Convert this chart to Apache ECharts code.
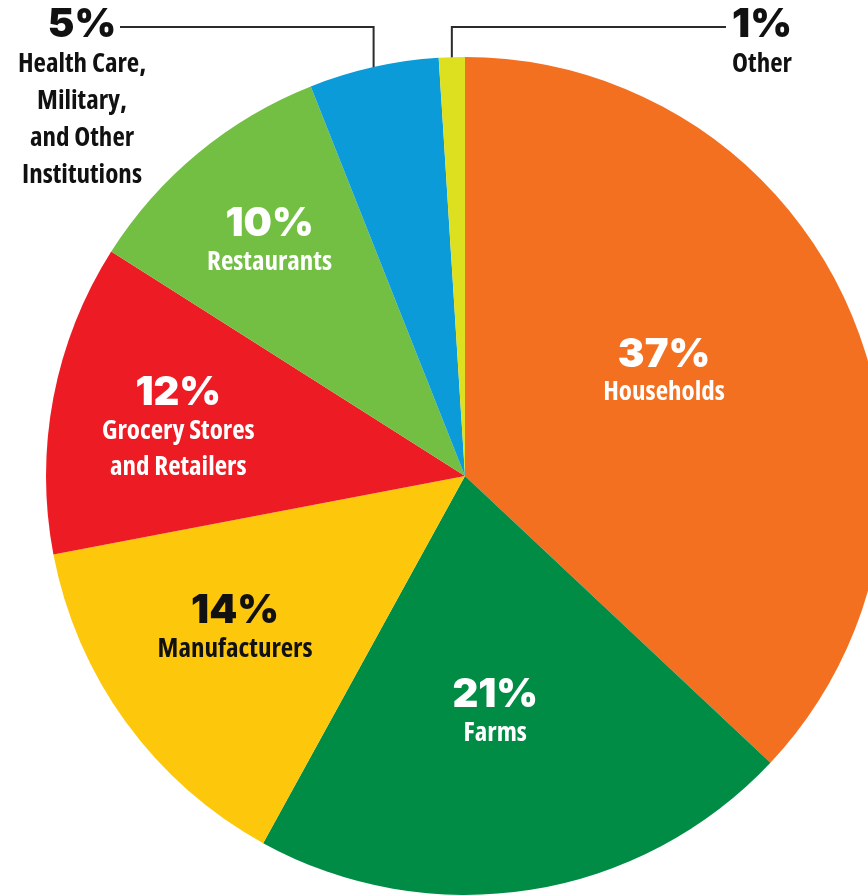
<!DOCTYPE html>
<html>
<head>
<meta charset="utf-8">
<script src="https://cdn.jsdelivr.net/npm/echarts@6/dist/echarts.min.js"></script>
<style>
html,body{margin:0;padding:0;background:#fff;}
#chart{width:868px;height:896px;}
</style>
</head>
<body>
<div id="chart"></div>
<script>
// ---- data ----
const categories = ['Households', 'Farms', 'Manufacturers', 'Grocery Stores\nand Retailers', 'Restaurants', 'Health Care,\nMilitary,\nand Other\nInstitutions', 'Other'];
const shares = [37, 21, 14, 12, 10, 5, 1];
const percentLabels = ['37%', '21%', '14%', '12%', '10%', '5%', '1%'];

// ---- styles ----
const sliceColors = ['#F37021', '#008C45', '#FDC70C', '#ED1C24', '#72BF44', '#0A9BD8', '#DDE01F'];
const darkText = [false, false, true, false, false, true, true];
const outsideIdx = [5, 6];
const insideOffsets = [[4, -19], [-3, 27], [-58, 28], [-78, -7], [-60, -70]];
const outsideLayout = {
  5: { x: 82, y: 4, lineY: 27, lineEndX: 120 },
  6: { x: 762, y: 4, lineY: 27, lineEndX: 726 }
};

const PCT_FONT = "Inter, Lato, 'Open Sans', sans-serif";
const NAME_FONT = "'Open Sans', 'DejaVu Sans', 'Noto Sans', sans-serif";
const NAME_STRETCH = 'condensed';

const rich = {
  pw: { fontFamily: PCT_FONT, fontWeight: 900, fontSize: 40, color: '#fff', lineHeight: 40, align: 'center' },
  pb: { fontFamily: PCT_FONT, fontWeight: 900, fontSize: 40, color: '#111', lineHeight: 40, align: 'center' },
  nw: { fontFamily: NAME_FONT, fontStyle: NAME_STRETCH, fontWeight: 'bold', fontSize: 27, color: '#fff', lineHeight: 36, align: 'center' },
  nb: { fontFamily: NAME_FONT, fontStyle: NAME_STRETCH, fontWeight: 'bold', fontSize: 27, color: '#111', lineHeight: 36, align: 'center' },
  po: { fontFamily: PCT_FONT, fontWeight: 900, fontSize: 40, color: '#111', lineHeight: 42, align: 'center' },
  no: { fontFamily: NAME_FONT, fontStyle: NAME_STRETCH, fontWeight: 'bold', fontSize: 27, color: '#111', lineHeight: 37, align: 'center' }
};

const data = categories.map(function (name, i) {
  const outside = outsideIdx.indexOf(i) >= 0;
  let fmt;
  if (outside) {
    fmt = '{po|' + percentLabels[i] + '}\n{no|' + name + '}';
  } else {
    const p = darkText[i] ? 'pb' : 'pw';
    const n = darkText[i] ? 'nb' : 'nw';
    fmt = '{' + p + '|' + percentLabels[i] + '}\n{' + n + '|' + name + '}';
  }
  return {
    name: name,
    value: shares[i],
    itemStyle: { color: sliceColors[i] },
    label: {
      show: true,
      position: outside ? 'outside' : 'inside',
      formatter: fmt,
      rich: rich,
      align: 'center'
    },
    labelLine: {
      show: outside,
      length: 20,
      length2: 20,
      lineStyle: { color: '#2b2b2b', width: 2 }
    }
  };
});

const chart = echarts.init(document.getElementById('chart'), null, { renderer: 'canvas' });
chart.setOption({
  animation: false,
  backgroundColor: '#ffffff',
  series: [{
    type: 'pie',
    center: [465, 476],
    radius: 419,
    startAngle: 90,
    clockwise: true,
    avoidLabelOverlap: false,
    silent: true,
    itemStyle: { borderWidth: 0 },
    label: { show: true },
    data: data,
    labelLayout: function (params) {
      const i = params.dataIndex;
      const o = outsideLayout[i];
      if (o) {
        const pts = params.labelLinePoints;
        let sx, sy;
        if (pts && pts.length) { sx = pts[0][0]; sy = pts[0][1] + 12; }
        else { sx = i === 5 ? 376 : 451; sy = i === 5 ? 77 : 72; }
        return {
          x: o.x, y: o.y, align: 'center', verticalAlign: 'top',
          labelLinePoints: [[sx, sy], [sx, o.lineY], [o.lineEndX, o.lineY]]
        };
      }
      const off = insideOffsets[i];
      return { dx: off[0], dy: off[1] };
    }
  }]
});
</script>
</body>
</html>
